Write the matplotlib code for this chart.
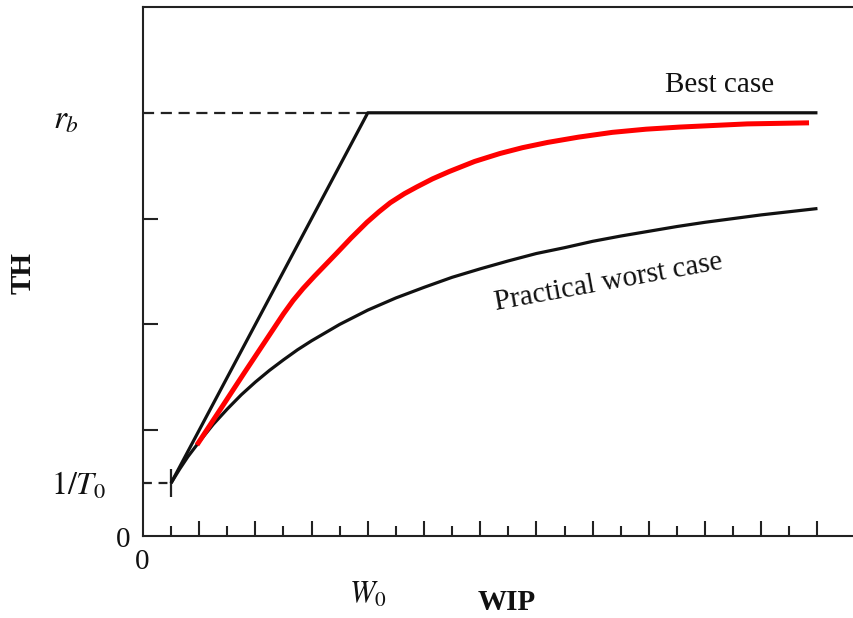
import matplotlib
matplotlib.use("Agg")
import matplotlib.pyplot as plt

plt.rcParams['font.family'] = ['Liberation Serif', 'DejaVu Serif']
plt.rcParams['mathtext.fontset'] = 'stix'

# values (units: 1/T0 = 1 on TH, one tick = 1 on WIP)
w0 = 8
rb = 8
best_w = [1, 8, 24]
best_th = [1, 8, 8]

pwc_w = [1, 1.3, 1.6, 2, 2.5, 3, 3.5, 4, 4.5, 5, 5.5, 6, 7, 8, 9, 10, 11, 12,
         13, 14, 15, 16, 17, 18, 19, 20, 21, 22, 23, 24]
pwc_th = [1.0, 1.26, 1.5, 1.78, 2.11, 2.4, 2.67, 2.91, 3.13, 3.33, 3.52, 3.69,
          4.0, 4.27, 4.5, 4.7, 4.89, 5.05, 5.2, 5.34, 5.45, 5.57, 5.67, 5.76,
          5.85, 5.93, 6.0, 6.07, 6.13, 6.19]

red_w = [1.92, 2.7, 3.6, 4.5, 5.0, 5.34, 5.7, 6.1, 6.5, 6.9, 7.4, 7.97, 8.4,
         8.8, 9.3, 9.75, 10.3, 10.9, 11.8, 12.7, 13.5, 14.4, 15.5, 16.7, 17.9,
         19.1, 20.3, 21.5, 22.6, 23.7]
red_th = [1.72, 2.35, 3.08, 3.8, 4.2, 4.45, 4.68, 4.91, 5.13, 5.35, 5.63, 5.93,
          6.13, 6.3, 6.47, 6.6, 6.75, 6.89, 7.08, 7.23, 7.34, 7.44, 7.54, 7.63,
          7.69, 7.73, 7.76, 7.79, 7.8, 7.81]

x_major = [2, 4, 6, 8, 10, 12, 14, 16, 18, 20, 22, 24]
x_minor = [1, 3, 5, 7, 9, 11, 13, 15, 17, 19, 21, 23]
y_marks = [2, 4, 6]

fig = plt.figure(figsize=(8.54, 6.18), dpi=100)
ax = fig.add_axes([0.1674, 0.1327, 0.8326, 0.856])
ax.set_xlim(0, 25.3)
ax.set_ylim(0, 10)

# dashed guides
ax.plot([0, w0], [rb, rb], color='#222222', lw=1.6, dashes=(5, 3))
ax.plot([0, 1], [1, 1], color='#222222', lw=1.6, dashes=(4, 3))
ax.plot(1, 1, marker='|', ms=20, mew=1.6, color='#222222')

# curves
ax.plot(best_w, best_th, color='#111111', lw=2.3, solid_capstyle='butt')
ax.plot(pwc_w, pwc_th, color='#111111', lw=2.3, solid_capstyle='butt',
        solid_joinstyle='round')
ax.plot(red_w, red_th, color='#ff0000', lw=3.6, solid_capstyle='butt',
        solid_joinstyle='round')

# axes style
for side in ['left', 'bottom', 'top']:
    ax.spines[side].set_linewidth(1.5)
    ax.spines[side].set_color('#222222')
ax.spines['right'].set_visible(False)

ax.set_xticks(x_major)
ax.set_xticks(x_minor, minor=True)
ax.set_yticks(y_marks)
ax.set_yticks([], minor=True)
ax.tick_params(axis='x', which='major', direction='in', length=10.8, width=1.5,
               color='#222222', labelbottom=False)
ax.tick_params(axis='x', which='minor', direction='in', length=7.2, width=1.5,
               color='#222222')
ax.tick_params(axis='y', which='major', direction='in', length=10.8, width=1.5,
               color='#222222', labelleft=False)

fs = 21
kw = dict(fontsize=fs, color='#111111', clip_on=False)
ax.text(-0.71, -0.08, '0', ha='center', va='center', **kw)
ax.text(-0.04, -0.49, '0', ha='center', va='center', **kw)
ax.text(-1.3, 0.95, r'$1/T_0$', ha='right', va='center', fontsize=23,
        color='#111111', clip_on=False)
ax.text(-2.74, 7.85, r'$r_b$', ha='center', va='center', fontsize=24,
        color='#111111', clip_on=False)
ax.text(8.0, -1.12, r'$W_0$', ha='center', va='center', fontsize=22,
        color='#111111', clip_on=False)
ax.text(12.95, -1.25, 'WIP', ha='center', va='center', fontweight='bold', **kw)
ax.text(-4.27, 4.97, 'TH', ha='center', va='center', rotation=90,
        fontweight='bold', **kw)

ax.text(20.5, 8.53, 'Best case', ha='center', va='center', **kw)
ax.text(16.55, 4.8, 'Practical worst case', ha='center', va='center',
        rotation=10.3, rotation_mode='anchor', **kw)

fig.savefig('out.png', dpi=100)
